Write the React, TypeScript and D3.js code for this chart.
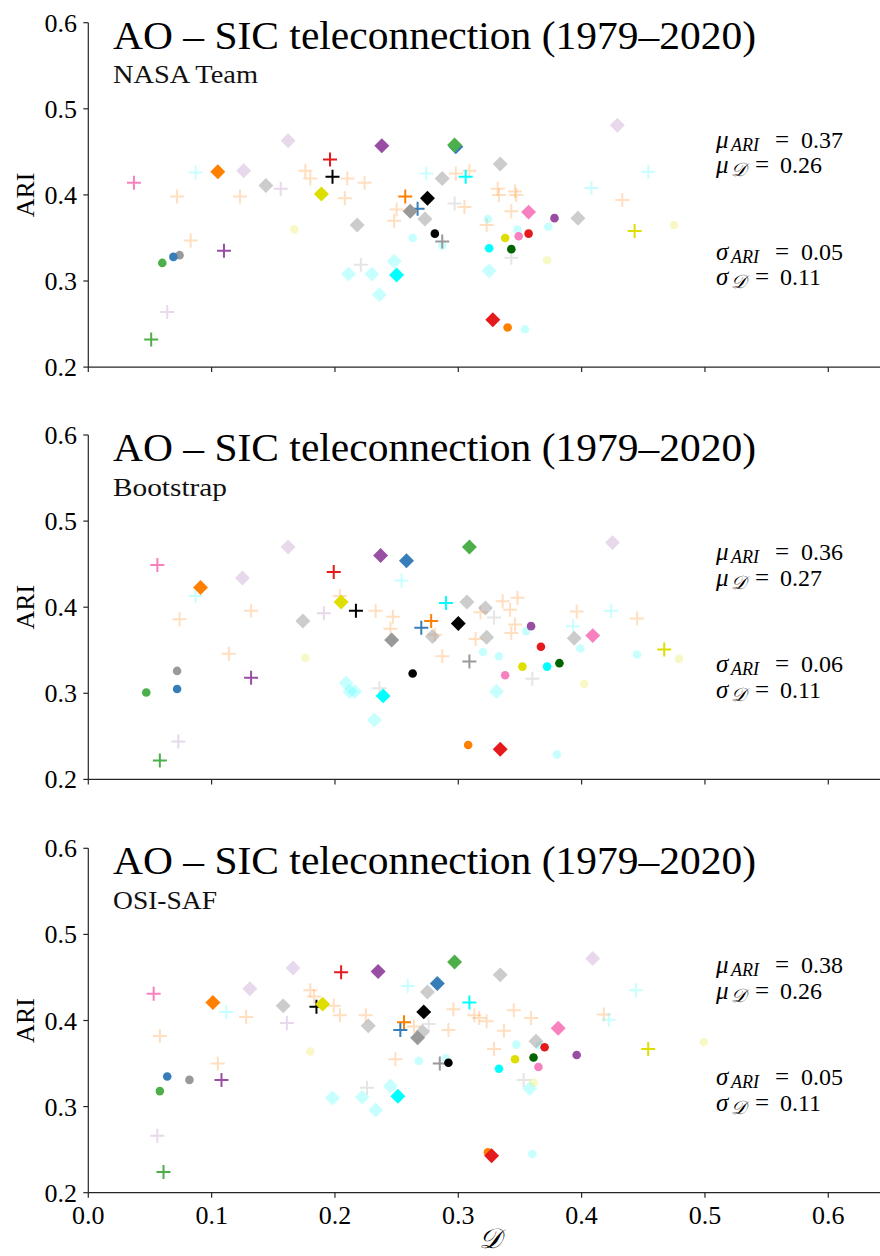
import React from 'react';
import * as d3 from 'd3';

type Pt = [string, number, number];

const TITLE = 'AO – SIC teleconnection (1979–2020)';
const PRODUCTS = ['NASA Team', 'Bootstrap', 'OSI-SAF'];
const X_TICKS = [0, 0.1, 0.2, 0.3, 0.4, 0.5, 0.6];
const Y_TICKS = [0.2, 0.3, 0.4, 0.5, 0.6];

// summary stats per product
const MU_ARI = [0.37, 0.36, 0.38];
const MU_D = [0.26, 0.27, 0.26];
const SIGMA_ARI = [0.05, 0.06, 0.05];
const SIGMA_D = [0.11, 0.11, 0.11];

// [group, D, ARI]  group = colour + marker (+ cross, D diamond, O circle), 'lt' = faded member
const NASA_TEAM: Pt[] = [
  ['ltorange+', 0.072, 0.398], ['ltorange+', 0.123, 0.398], ['ltorange+', 0.176, 0.428], ['ltorange+', 0.18, 0.419],
  ['ltorange+', 0.21, 0.419], ['ltorange+', 0.224, 0.414], ['ltorange+', 0.208, 0.396], ['ltorange+', 0.083, 0.347],
  ['ltorange+', 0.298, 0.425], ['ltorange+', 0.309, 0.428], ['ltorange+', 0.332, 0.407], ['ltorange+', 0.333, 0.4],
  ['ltorange+', 0.346, 0.404], ['ltorange+', 0.347, 0.4], ['ltorange+', 0.25, 0.383], ['ltorange+', 0.248, 0.37],
  ['ltorange+', 0.305, 0.386], ['ltorange+', 0.343, 0.381], ['ltorange+', 0.323, 0.365], ['ltorange+', 0.433, 0.394],
  ['ltcyan+', 0.087, 0.426], ['ltcyan+', 0.274, 0.425], ['ltcyan+', 0.454, 0.427], ['ltcyan+', 0.408, 0.408],
  ['ltcyanD', 0.211, 0.308], ['ltcyanD', 0.23, 0.308], ['ltcyanD', 0.236, 0.284], ['ltcyanD', 0.248, 0.323], ['ltcyanD', 0.325, 0.312],
  ['ltcyanO', 0.324, 0.372], ['ltcyanO', 0.348, 0.36], ['ltcyanO', 0.373, 0.363], ['ltcyanO', 0.263, 0.35],
  ['ltcyanO', 0.287, 0.341], ['ltcyanO', 0.354, 0.244],
  ['ltpurple+', 0.156, 0.407], ['ltpurple+', 0.064, 0.264],
  ['ltpurpleD', 0.126, 0.428], ['ltpurpleD', 0.162, 0.463], ['ltpurpleD', 0.429, 0.481],
  ['ltgray+', 0.221, 0.319], ['ltgray+', 0.297, 0.39], ['ltgray+', 0.343, 0.327],
  ['ltgrayD', 0.144, 0.411], ['ltgrayD', 0.218, 0.365], ['ltgrayD', 0.287, 0.419], ['ltgrayD', 0.334, 0.436],
  ['ltgrayD', 0.273, 0.372], ['ltgrayD', 0.397, 0.373],
  ['ltyellowO', 0.167, 0.36], ['ltyellowO', 0.372, 0.324], ['ltyellowO', 0.475, 0.365],
  ['pink+', 0.037, 0.414], ['orangeD', 0.105, 0.427], ['red+', 0.196, 0.441], ['black+', 0.198, 0.421],
  ['yellowD', 0.189, 0.401], ['purpleD', 0.238, 0.457], ['purple+', 0.11, 0.335], ['grayO', 0.074, 0.33],
  ['blueO', 0.069, 0.328], ['greenO', 0.06, 0.321], ['green+', 0.051, 0.232], ['blueD', 0.298, 0.456],
  ['greenD', 0.297, 0.458], ['cyan+', 0.306, 0.421], ['orange+', 0.257, 0.398], ['blue+', 0.267, 0.384],
  ['grayD', 0.261, 0.381], ['blackD', 0.275, 0.396], ['pinkD', 0.357, 0.38], ['purpleO', 0.378, 0.373],
  ['yellowO', 0.338, 0.35], ['pinkO', 0.349, 0.352], ['redO', 0.357, 0.355], ['gray+', 0.287, 0.346],
  ['blackO', 0.281, 0.355], ['cyanO', 0.325, 0.338], ['dkgreenO', 0.343, 0.337], ['cyanD', 0.25, 0.307],
  ['redD', 0.328, 0.255], ['orangeO', 0.34, 0.246], ['yellow+', 0.443, 0.358],
];

const BOOTSTRAP: Pt[] = [
  ['ltorange+', 0.074, 0.386], ['ltorange+', 0.132, 0.396], ['ltorange+', 0.114, 0.346], ['ltorange+', 0.204, 0.413],
  ['ltorange+', 0.233, 0.396], ['ltorange+', 0.247, 0.389], ['ltorange+', 0.245, 0.375], ['ltorange+', 0.318, 0.394],
  ['ltorange+', 0.336, 0.407], ['ltorange+', 0.348, 0.411], ['ltorange+', 0.342, 0.397], ['ltorange+', 0.346, 0.38],
  ['ltorange+', 0.343, 0.37], ['ltorange+', 0.281, 0.368], ['ltorange+', 0.314, 0.363], ['ltorange+', 0.287, 0.343],
  ['ltorange+', 0.396, 0.395], ['ltorange+', 0.445, 0.387],
  ['ltcyan+', 0.087, 0.413], ['ltcyan+', 0.254, 0.431], ['ltcyan+', 0.393, 0.378], ['ltcyan+', 0.424, 0.396],
  ['ltcyanD', 0.209, 0.312], ['ltcyanD', 0.212, 0.302], ['ltcyanD', 0.216, 0.302], ['ltcyanD', 0.232, 0.269], ['ltcyanD', 0.331, 0.302],
  ['ltcyanO', 0.32, 0.348], ['ltcyanO', 0.333, 0.343], ['ltcyanO', 0.355, 0.372], ['ltcyanO', 0.399, 0.352],
  ['ltcyanO', 0.445, 0.345], ['ltcyanO', 0.38, 0.229],
  ['ltpurple+', 0.191, 0.393], ['ltpurple+', 0.073, 0.244],
  ['ltpurpleD', 0.125, 0.434], ['ltpurpleD', 0.162, 0.47], ['ltpurpleD', 0.425, 0.475],
  ['ltgray+', 0.236, 0.306], ['ltgray+', 0.329, 0.388], ['ltgray+', 0.36, 0.317],
  ['ltgrayD', 0.174, 0.384], ['ltgrayD', 0.307, 0.406], ['ltgrayD', 0.322, 0.399], ['ltgrayD', 0.279, 0.366],
  ['ltgrayD', 0.323, 0.365], ['ltgrayD', 0.394, 0.364],
  ['ltyellowO', 0.176, 0.341], ['ltyellowO', 0.479, 0.34], ['ltyellowO', 0.402, 0.311],
  ['pink+', 0.056, 0.449], ['orangeD', 0.091, 0.423], ['red+', 0.199, 0.441], ['yellowD', 0.205, 0.406],
  ['black+', 0.217, 0.396], ['purpleD', 0.237, 0.46], ['grayO', 0.072, 0.326], ['blueO', 0.072, 0.305],
  ['greenO', 0.047, 0.301], ['purple+', 0.132, 0.318], ['cyanD', 0.239, 0.297], ['green+', 0.058, 0.222],
  ['grayD', 0.246, 0.362], ['blueD', 0.258, 0.454], ['greenD', 0.309, 0.47], ['cyan+', 0.29, 0.405],
  ['orange+', 0.278, 0.384], ['blue+', 0.27, 0.376], ['blackD', 0.3, 0.381], ['gray+', 0.309, 0.337],
  ['blackO', 0.263, 0.323], ['purpleO', 0.359, 0.378], ['redO', 0.367, 0.354], ['pinkD', 0.409, 0.367],
  ['yellow+', 0.467, 0.351], ['pinkO', 0.338, 0.321], ['yellowO', 0.352, 0.331], ['cyanO', 0.372, 0.331],
  ['dkgreenO', 0.382, 0.335], ['orangeO', 0.308, 0.24], ['redD', 0.334, 0.235],
];

const OSI_SAF: Pt[] = [
  ['ltorange+', 0.128, 0.404], ['ltorange+', 0.058, 0.382], ['ltorange+', 0.105, 0.35], ['ltorange+', 0.18, 0.435],
  ['ltorange+', 0.183, 0.428], ['ltorange+', 0.199, 0.417], ['ltorange+', 0.204, 0.406], ['ltorange+', 0.225, 0.406],
  ['ltorange+', 0.296, 0.413], ['ltorange+', 0.313, 0.406], ['ltorange+', 0.317, 0.403], ['ltorange+', 0.323, 0.399],
  ['ltorange+', 0.345, 0.412], ['ltorange+', 0.359, 0.403], ['ltorange+', 0.337, 0.388], ['ltorange+', 0.292, 0.389],
  ['ltorange+', 0.329, 0.367], ['ltorange+', 0.249, 0.355], ['ltorange+', 0.418, 0.407], ['ltorange+', 0.264, 0.393],
  ['ltcyan+', 0.112, 0.41], ['ltcyan+', 0.259, 0.44], ['ltcyan+', 0.444, 0.435], ['ltcyan+', 0.422, 0.401],
  ['ltcyanD', 0.198, 0.31], ['ltcyanD', 0.222, 0.311], ['ltcyanD', 0.233, 0.296], ['ltcyanD', 0.245, 0.324], ['ltcyanD', 0.358, 0.321],
  ['ltcyanO', 0.268, 0.353], ['ltcyanO', 0.29, 0.356], ['ltcyanO', 0.347, 0.372], ['ltcyanO', 0.366, 0.371], ['ltcyanO', 0.36, 0.245],
  ['ltpurple+', 0.161, 0.397], ['ltpurple+', 0.056, 0.266],
  ['ltpurpleD', 0.131, 0.437], ['ltpurpleD', 0.166, 0.461], ['ltpurpleD', 0.409, 0.472],
  ['ltgray+', 0.226, 0.322], ['ltgray+', 0.276, 0.396], ['ltgray+', 0.353, 0.331],
  ['ltgrayD', 0.158, 0.417], ['ltgrayD', 0.227, 0.394], ['ltgrayD', 0.275, 0.433], ['ltgrayD', 0.334, 0.453],
  ['ltgrayD', 0.271, 0.387], ['ltgrayD', 0.363, 0.376],
  ['ltyellowO', 0.18, 0.364], ['ltyellowO', 0.499, 0.375], ['ltyellowO', 0.361, 0.328],
  ['pink+', 0.053, 0.431], ['orangeD', 0.101, 0.421], ['black+', 0.185, 0.416], ['yellowD', 0.19, 0.419],
  ['red+', 0.205, 0.456], ['purpleD', 0.235, 0.457], ['blueO', 0.064, 0.335], ['grayO', 0.082, 0.331],
  ['purple+', 0.108, 0.331], ['greenO', 0.058, 0.318], ['green+', 0.061, 0.224], ['greenD', 0.297, 0.468],
  ['blueD', 0.283, 0.443], ['cyan+', 0.309, 0.421], ['blackD', 0.272, 0.41], ['orange+', 0.256, 0.398],
  ['blue+', 0.253, 0.389], ['grayD', 0.267, 0.38], ['pinkD', 0.381, 0.391], ['redO', 0.37, 0.369],
  ['purpleO', 0.396, 0.36], ['yellow+', 0.454, 0.367], ['yellowO', 0.346, 0.355], ['dkgreenO', 0.361, 0.357],
  ['pinkO', 0.365, 0.346], ['cyanO', 0.333, 0.344], ['gray+', 0.285, 0.35], ['blackO', 0.292, 0.351],
  ['cyanD', 0.251, 0.312], ['orangeO', 0.324, 0.247], ['redD', 0.327, 0.243],
];

const PANELS = [NASA_TEAM, BOOTSTRAP, OSI_SAF];

const COLORS: Record<string, string> = {
  red: '#e41a1c', blue: '#377eb8', green: '#4daf4a', purple: '#984ea3', orange: '#ff7f00',
  yellow: '#dede00', pink: '#f781bf', gray: '#999999', black: '#000000', cyan: '#00ffff', dkgreen: '#006400',
};
const LIGHT_ALPHA: Record<string, number> = { orange: 0.25, cyan: 0.22, purple: 0.22, gray: 0.25, yellow: 0.22 };

const FONT = "'Liberation Serif', 'Times New Roman', 'DejaVu Serif', serif";
const W = 880;
const H = 1256;
const PANEL_TOPS = [22.7, 435, 848.3];
const PANEL_H = 344.4;
const SUB_LEN = [145, 114, 104];

const x = d3.scaleLinear().domain([0, 0.65]).range([88.3, 88.3 + 0.65 * 1233.3]);
const diamondPath = d3.symbol(d3.symbolSquare, 112)()!;
const circlePath = d3.symbol(d3.symbolCircle, 58)()!;

function style(k: string) {
  const shape = k.slice(-1);
  let c = k.slice(0, -1);
  const light = c.startsWith('lt');
  if (light) c = c.slice(2);
  let alpha = 1;
  if (light) alpha = c === 'gray' && shape === 'D' ? 0.5 : LIGHT_ALPHA[c];
  return { shape, color: COLORS[c], alpha };
}

function Marker({ k, cx, cy }: { k: string; cx: number; cy: number }) {
  const s = style(k);
  if (s.shape === '+') {
    return (
      <path d="M-7,0H7M0,-7V7" transform={`translate(${cx},${cy})`} stroke={s.color} strokeWidth={2}
        fill="none" opacity={s.alpha} />
    );
  }
  if (s.shape === 'D') {
    return <path d={diamondPath} transform={`translate(${cx},${cy}) rotate(45)`} fill={s.color} opacity={s.alpha} />;
  }
  return <path d={circlePath} transform={`translate(${cx},${cy})`} fill={s.color} opacity={s.alpha} />;
}

function Panel({ i }: { i: number }) {
  const top = PANEL_TOPS[i];
  const y = d3.scaleLinear().domain([0.2, 0.6]).range([top + PANEL_H, top]);
  const bottom = y(0.2);
  const axisColor = '#262626';
  // one text element per stat line, pieces placed with tspans
  const statLine = (sym: string, sub: string, val: number, dy: number, eqX: number, valX: number) => {
    const by = top + dy;
    const isD = sub === '𝒟';
    return (
      <text fontFamily={FONT} fill="#000" y={by}>
        <tspan x={716} y={by} fontSize={25} fontStyle="italic">{sym}</tspan>
        <tspan x={731} y={by + 3} fontSize={isD ? 19 : 18} fontStyle="italic">{sub}</tspan>
        <tspan x={eqX} y={by} fontSize={25}>=</tspan>
        <tspan x={valX} y={by} fontSize={24}>{val.toFixed(2)}</tspan>
      </text>
    );
  };
  return (
    <g>
      {PANELS[i].map((p, j) => (
        <Marker key={j} k={p[0]} cx={x(p[1])} cy={y(p[2])} />
      ))}
      {/* spines */}
      <line x1={x(0)} x2={W + 20} y1={bottom} y2={bottom} stroke={axisColor} strokeWidth={1.2} />
      <line x1={x(0)} x2={x(0)} y1={top} y2={bottom} stroke={axisColor} strokeWidth={1.2} />
      {Y_TICKS.map((t) => (
        <g key={t}>
          <line x1={x(0) - 5} x2={x(0)} y1={y(t)} y2={y(t)} stroke={axisColor} strokeWidth={1.2} />
          <text x={77} y={y(t) + 9} textAnchor="end" fontFamily={FONT} fontSize={26}>{t.toFixed(1)}</text>
        </g>
      ))}
      {X_TICKS.map((t) => (
        <g key={t}>
          <line x1={x(t)} x2={x(t)} y1={bottom} y2={bottom + 5} stroke={axisColor} strokeWidth={1.2} />
          {i === 2 && (
            <text x={x(t)} y={bottom + 31} textAnchor="middle" fontFamily={FONT} fontSize={26}>{t.toFixed(1)}</text>
          )}
        </g>
      ))}
      <text transform={`translate(34,${(top + bottom) / 2}) rotate(-90)`} textAnchor="middle" fontFamily={FONT}
        fontSize={26}>ARI</text>
      <text x={113} y={top + 26} fontFamily={FONT} fontSize={41} textLength={643} lengthAdjust="spacingAndGlyphs">
        {TITLE}
      </text>
      <text x={113} y={top + 60.5} fontFamily={FONT} fontSize={26} fill="#111" textLength={SUB_LEN[i]}
        lengthAdjust="spacingAndGlyphs">{PRODUCTS[i]}</text>
      {statLine('μ', 'ARI', MU_ARI[i], 125, 775, 801)}
      {statLine('μ', '𝒟', MU_D[i], 150.6, 755, 780)}
      {statLine('σ', 'ARI', SIGMA_ARI[i], 237, 775, 801)}
      {statLine('σ', '𝒟', SIGMA_D[i], 262.5, 755, 780)}
    </g>
  );
}

export default function App() {
  return (
    <svg width={W} height={H} viewBox={`0 0 ${W} ${H}`}
      style={{ position: 'absolute', left: 0, top: 0, background: '#fff', display: 'block' }}>
      <rect width={W} height={H} fill="#fff" />
      {[0, 1, 2].map((i) => (
        <Panel key={i} i={i} />
      ))}
      <text x={490} y={1248} textAnchor="middle" fontFamily={FONT} fontSize={28} fontStyle="italic">𝒟</text>
    </svg>
  );
}
